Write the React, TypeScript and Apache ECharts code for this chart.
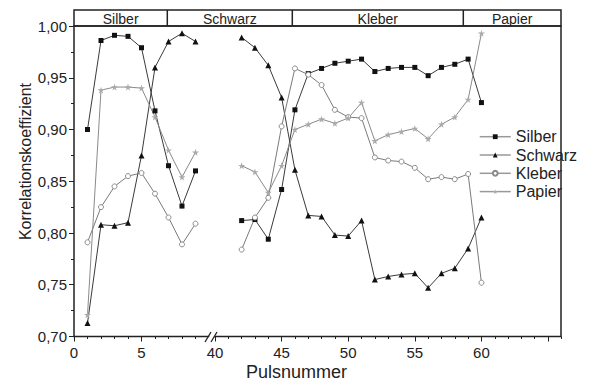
import React, { useEffect, useRef } from 'react';
import * as echarts from 'echarts';

const sampleNames = ['Silber', 'Schwarz', 'Kleber', 'Papier'];
const pulsesLeft = [1, 2, 3, 4, 5, 6, 7, 8, 9];
const pulsesRight = [42, 43, 44, 45, 46, 47, 48, 49, 50, 51, 52, 53, 54, 55, 56, 57, 58, 59, 60];

const silberLeft = [0.9, 0.986, 0.991, 0.99, 0.979, 0.918, 0.865, 0.826, 0.86];
const silberRight = [0.812, 0.813, 0.794, 0.842, 0.919, 0.954, 0.959, 0.964, 0.966, 0.968, 0.956, 0.959, 0.96, 0.96, 0.952, 0.96, 0.963, 0.968, 0.926];

const schwarzLeft = [0.713, 0.808, 0.807, 0.81, 0.875, 0.96, 0.985, 0.993, 0.985];
const schwarzRight = [0.989, 0.979, 0.962, 0.931, 0.861, 0.817, 0.816, 0.798, 0.797, 0.812, 0.755, 0.758, 0.76, 0.761, 0.747, 0.761, 0.766, 0.785, 0.815];

const kleberLeft = [0.791, 0.825, 0.845, 0.855, 0.858, 0.838, 0.815, 0.789, 0.809];
const kleberRight = [0.784, 0.815, 0.834, 0.903, 0.959, 0.953, 0.943, 0.919, 0.912, 0.911, 0.873, 0.87, 0.869, 0.863, 0.852, 0.854, 0.852, 0.857, 0.752];

const papierLeft = [0.721, 0.938, 0.941, 0.941, 0.94, 0.912, 0.88, 0.854, 0.878];
const papierRight = [0.865, 0.859, 0.839, 0.865, 0.9, 0.905, 0.91, 0.906, 0.911, 0.926, 0.889, 0.895, 0.898, 0.901, 0.891, 0.905, 0.912, 0.929, 0.993];

const xTicksLeft = [0, 5];
const xLabelsLeft = [0, 5];
const xTicksRight = [40, 45, 50, 55, 60, 65];
const xLabelsRight = [40, 45, 50, 55, 60];
const sectionLabels = ['Silber', 'Schwarz', 'Kleber', 'Papier'];

const FONT = '"Liberation Sans", Arial, Helvetica, sans-serif';
const TEXT = '#222';
const STAR = 'path://M50,0 L61,35 L98,35 L68,57 L79,91 L50,70 L21,91 L32,57 L2,35 L39,35 Z';

const styles: Record<string, any> = {
  Silber: { symbol: 'rect', symbolSize: 5, itemStyle: { color: '#111' }, lineStyle: { color: '#3a3a3a', width: 1 } },
  Schwarz: { symbol: 'triangle', symbolSize: 6, itemStyle: { color: '#111' }, lineStyle: { color: '#3a3a3a', width: 1 } },
  Kleber: { symbol: 'circle', symbolSize: 5, itemStyle: { color: '#fff', borderColor: '#8a8a8a', borderWidth: 1 }, lineStyle: { color: '#7a7a7a', width: 1 } },
  Papier: { symbol: STAR, symbolSize: 7, itemStyle: { color: '#aaa' }, lineStyle: { color: '#8a8a8a', width: 1 } },
};

const seriesValues: Record<string, [number[], number[]]> = {
  Silber: [silberLeft, silberRight],
  Schwarz: [schwarzLeft, schwarzRight],
  Kleber: [kleberLeft, kleberRight],
  Papier: [papierLeft, papierRight],
};

export default function App() {
  const ref = useRef<HTMLDivElement>(null);
  useEffect(() => {
    if (!ref.current) return;
    const chart = echarts.init(ref.current, undefined, { renderer: 'svg' });

    const series: any[] = [];
    sampleNames.forEach((name) => {
      const [l, r] = seriesValues[name];
      const base = { name, type: 'line', showAllSymbol: true, ...styles[name], z: 3 };
      series.push({ ...base, xAxisIndex: 0, yAxisIndex: 0, data: pulsesLeft.map((p, i) => [p, l[i]]) });
      series.push({ ...base, xAxisIndex: 1, yAxisIndex: 1, data: pulsesRight.map((p, i) => [p, r[i]]) });
    });

    const xAxisCommon = {
      type: 'value',
      interval: 5,
      axisLine: { show: false },
      splitLine: { show: false },
      axisTick: { show: true, inside: false, length: 5, lineStyle: { color: TEXT, width: 1 } },
      minorTick: { show: true, splitNumber: 5, length: 2.5, lineStyle: { color: TEXT, width: 1 } },
      axisLabel: { fontFamily: FONT, fontSize: 15, color: TEXT, margin: 8 },
    };

    const sectionBounds = [74, 167.3, 292.3, 463.3, 561];

    const graphic: any[] = [
      { type: 'rect', z: 5, shape: { x: 74, y: 26, width: 487, height: 310.5 }, style: { fill: 'none', stroke: '#222', lineWidth: 1.5 } },
      { type: 'rect', z: 5, shape: { x: 74, y: 10, width: 487, height: 16 }, style: { fill: 'none', stroke: '#222', lineWidth: 1.5 } },
    ];
    for (let i = 1; i < sectionBounds.length - 1; i++) {
      graphic.push({ type: 'line', z: 5, shape: { x1: sectionBounds[i], y1: 10, x2: sectionBounds[i], y2: 26 }, style: { stroke: '#222', lineWidth: 1.5 } });
    }
    sectionLabels.forEach((lab, i) => {
      graphic.push({
        type: 'text', z: 6, x: (sectionBounds[i] + sectionBounds[i + 1]) / 2, y: 18.5,
        style: { text: lab, font: `14px ${FONT}`, fill: TEXT, align: 'center', verticalAlign: 'middle' },
      });
    });
    graphic.push({
      type: 'text', z: 6, x: 25, y: 161.5, rotation: Math.PI / 2,
      style: { text: 'Korrelationskoeffizient', font: `16px ${FONT}`, fill: TEXT, align: 'center', verticalAlign: 'middle' },
    });
    graphic.push({
      type: 'text', z: 6, x: 296.5, y: 372,
      style: { text: 'Pulsnummer', font: `18px ${FONT}`, fill: TEXT, align: 'center', verticalAlign: 'middle' },
    });
    // axis break marker
    graphic.push({ type: 'polygon', z: 7, shape: { points: [[206, 342], [212, 332], [217, 332], [211, 342]] }, style: { fill: '#fff' } });
    graphic.push({ type: 'line', z: 8, shape: { x1: 205, y1: 342, x2: 211, y2: 332 }, style: { stroke: '#222', lineWidth: 1.3 } });
    graphic.push({ type: 'line', z: 8, shape: { x1: 211, y1: 342, x2: 217, y2: 332 }, style: { stroke: '#222', lineWidth: 1.3 } });

    chart.setOption({
      animation: false,
      backgroundColor: '#fff',
      textStyle: { fontFamily: FONT },
      grid: [
        { left: 74, top: 26, width: 135, height: 310.5 },
        { left: 215, top: 26, width: 346.5, height: 310.5 },
      ],
      xAxis: [
        {
          ...xAxisCommon, gridIndex: 0, min: 0, max: 10,
          axisTick: { ...xAxisCommon.axisTick, customValues: xTicksLeft },
          axisLabel: { ...xAxisCommon.axisLabel, customValues: xLabelsLeft, formatter: (v: number) => (xLabelsLeft.includes(v) ? String(v) : '') },
        },
        {
          ...xAxisCommon, gridIndex: 1, min: 40, max: 66.01,
          axisTick: { ...xAxisCommon.axisTick, customValues: xTicksRight },
          axisLabel: { ...xAxisCommon.axisLabel, customValues: xLabelsRight, formatter: (v: number) => (xLabelsRight.includes(v) ? String(v) : '') },
        },
      ],
      yAxis: [
        {
          type: 'value', gridIndex: 0, min: 0.7, max: 1.0, interval: 0.05,
          axisLine: { show: false },
          splitLine: { show: false },
          axisTick: { show: true, inside: false, length: 5, lineStyle: { color: TEXT, width: 1 } },
          minorTick: { show: true, splitNumber: 2, length: 3, lineStyle: { color: TEXT, width: 1 } },
          axisLabel: { fontFamily: FONT, fontSize: 15, color: TEXT, margin: 7, formatter: (v: number) => v.toFixed(2).replace('.', ',') },
        },
        { type: 'value', gridIndex: 1, min: 0.7, max: 1.0, interval: 0.05, show: false },
      ],
      legend: {
        data: sampleNames,
        orient: 'vertical',
        left: 479,
        top: 128.7,
        padding: 0,
        itemWidth: 31,
        itemHeight: 6,
        itemGap: 2.3,
        lineStyle: { color: '#999', width: 1.5 },
        textStyle: { fontFamily: FONT, fontSize: 16, color: TEXT },
        selectedMode: false,
      },
      graphic,
      series,
    });
    return () => chart.dispose();
  }, []);
  return <div ref={ref} style={{ width: 589, height: 383, position: 'absolute', left: 0, top: 0 }} />;
}
